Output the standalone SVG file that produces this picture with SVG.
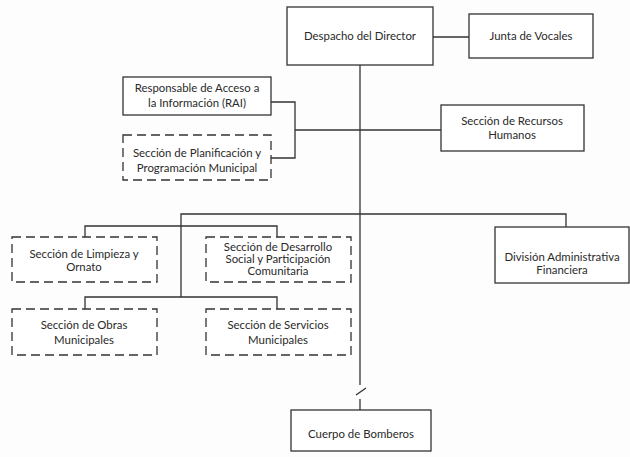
<svg xmlns="http://www.w3.org/2000/svg" width="630" height="457" viewBox="0 0 630 457">
<style>
.box{fill:#fff;stroke:#333;stroke-width:1.3}
.dash{fill:#fff;stroke:#333;stroke-width:1.3;stroke-dasharray:9 5}
.ln{fill:none;stroke:#333;stroke-width:1.3}
text{font-family:Lato,"Liberation Sans",sans-serif;font-size:11.4px;fill:#2a2a2a;text-anchor:middle}
</style>
<rect width="630" height="457" fill="#fdfdfd"/>
<g id="connectors">
<line class="ln" x1="433" y1="37" x2="469" y2="37"/>
<line class="ln" x1="360" y1="65" x2="360" y2="385"/>
<line class="ln" x1="360" y1="399" x2="360" y2="410"/>
<line class="ln" x1="356" y1="395" x2="366" y2="388"/>
<polyline class="ln" points="271,102 295,102 295,158 271,158"/>
<line class="ln" x1="295" y1="130" x2="441" y2="130"/>
<polyline class="ln" points="181,297 181,214 566,214 566,227"/>
<polyline class="ln" points="85,237 85,226 277,226 277,237"/>
<polyline class="ln" points="85,309 85,297 277,297 277,309"/>
</g>
<g id="despacho"><rect class="box" x="287" y="7" width="146" height="58"/><text x="360" y="40">Despacho del Director</text></g>
<g id="junta"><rect class="box" x="469" y="14" width="124" height="44"/><text x="531" y="40">Junta de Vocales</text></g>
<g id="rai"><rect class="box" x="123" y="77" width="148" height="38"/><text x="197" y="92">Responsable de Acceso a</text><text x="197" y="107">la Información (RAI)</text></g>
<g id="planificacion"><rect class="dash" x="123" y="135" width="148" height="45"/><text x="197" y="157">Sección de Planificación y</text><text x="197" y="172">Programación Municipal</text></g>
<g id="recursos"><rect class="box" x="441" y="105" width="143" height="46"/><text x="512" y="125">Sección de Recursos</text><text x="512" y="139">Humanos</text></g>
<g id="limpieza"><rect class="dash" x="12" y="237" width="145" height="45"/><text x="84" y="258">Sección de Limpieza y</text><text x="84" y="271">Ornato</text></g>
<g id="desarrollo"><rect class="dash" x="206" y="237" width="145" height="45"/><text x="278" y="251">Sección de Desarrollo</text><text x="278" y="263">Social y Participación</text><text x="278" y="275">Comunitaria</text></g>
<g id="division"><rect class="box" x="495" y="227" width="134" height="56"/><text x="562" y="261">División Administrativa</text><text x="562" y="274">Financiera</text></g>
<g id="obras"><rect class="dash" x="12" y="309" width="145" height="46"/><text x="84" y="329">Sección de Obras</text><text x="84" y="344">Municipales</text></g>
<g id="servicios"><rect class="dash" x="206" y="309" width="145" height="46"/><text x="278" y="329">Sección de Servicios</text><text x="278" y="344">Municipales</text></g>
<g id="bomberos"><rect class="box" x="291" y="410" width="140" height="41"/><text x="361" y="438">Cuerpo de Bomberos</text></g>
</svg>
